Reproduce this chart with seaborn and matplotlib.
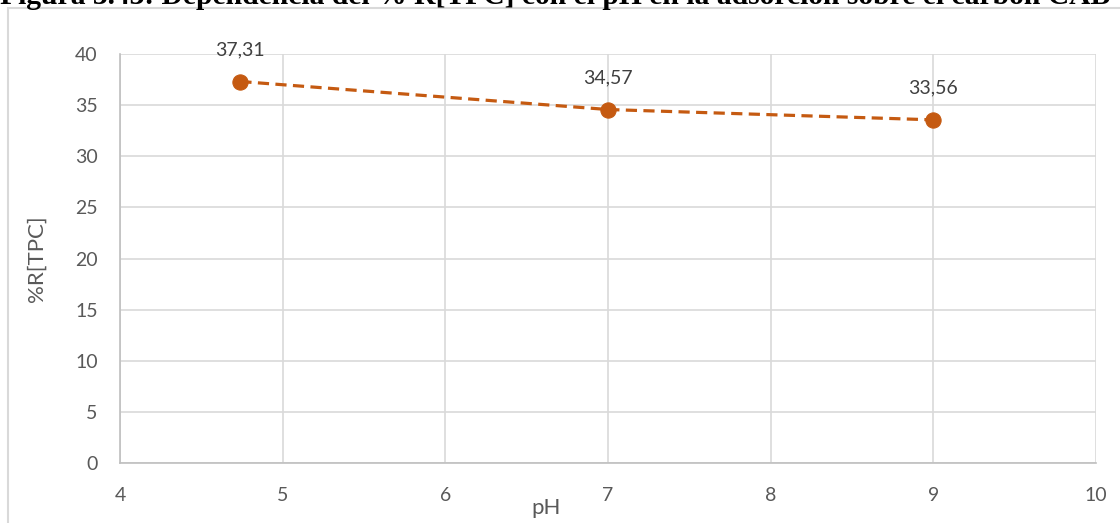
import matplotlib
matplotlib.use("Agg")
import matplotlib.pyplot as plt
import seaborn as sns
import pandas as pd
from matplotlib.patches import Rectangle

ph = [4.74, 7.0, 9.0]
r_tpc = [37.31, 34.57, 33.56]
labels = ["37,31", "34,57", "33,56"]
x_ticks = [4, 5, 6, 7, 8, 9, 10]
y_ticks = [0, 5, 10, 15, 20, 25, 30, 35, 40]
title = "Figura 3.43: Dependencia del % R[TPC] con el pH en la adsorción sobre el carbón CAB"

df = pd.DataFrame({"pH": ph, "R": r_tpc})

sns.set_style("white")
plt.rcParams["font.family"] = ["Lato", "DejaVu Sans"]

W, H = 1120, 523
fig = plt.figure(figsize=(W / 100, H / 100), dpi=100)
ax = fig.add_axes([120 / W, 1 - 463 / H, (1096 - 120) / W, (463 - 54) / H])

color = "#C55A11"
sns.lineplot(data=df, x="pH", y="R", ax=ax, color=color, linewidth=2.3,
             linestyle=(0, (3.5, 2)), marker="o", markersize=11,
             markeredgecolor=color, markerfacecolor=color)

for x, y, t in zip(ph, r_tpc, labels):
    ax.annotate(t, (x, y), xytext=(0, 17), textcoords="offset points",
                ha="center", va="bottom", fontsize=14, color="#404040")

ax.set_xlim(4, 10)
ax.set_ylim(0, 40)
ax.set_xticks(x_ticks)
ax.set_yticks(y_ticks)
ax.tick_params(axis="both", labelsize=14, colors="#595959", length=0, pad=16)
ax.tick_params(axis="x", pad=17)
ax.grid(True, color="#D9D9D9", linewidth=1.2)
ax.set_axisbelow(True)
for s in ["top", "right"]:
    ax.spines[s].set_visible(False)
for s in ["left", "bottom"]:
    ax.spines[s].set_color("#BFBFBF")
    ax.spines[s].set_linewidth(1.2)

ax.set_xlabel("pH", fontsize=16, color="#595959")
ax.set_ylabel("%R[TPC]", fontsize=16, color="#595959")
ax.xaxis.set_label_coords((546 - 120) / (1096 - 120), -(498 - 463) / (463 - 54))
ax.yaxis.set_label_coords(-(120 - 47) / (1096 - 120), 0.5)

# outer chart border
fig.patches.append(Rectangle((8 / W, -0.1), 1.2, 1 - 8 / H + 0.1,
                             transform=fig.transFigure, fill=False,
                             edgecolor="#D9D9D9", linewidth=1.5))

fig.text(0, 1 - 4.0 / H, title, ha="left", va="baseline", fontsize=21.3,
         fontweight="bold", family="Liberation Serif", color="black")

fig.savefig("out.png", dpi=100)
